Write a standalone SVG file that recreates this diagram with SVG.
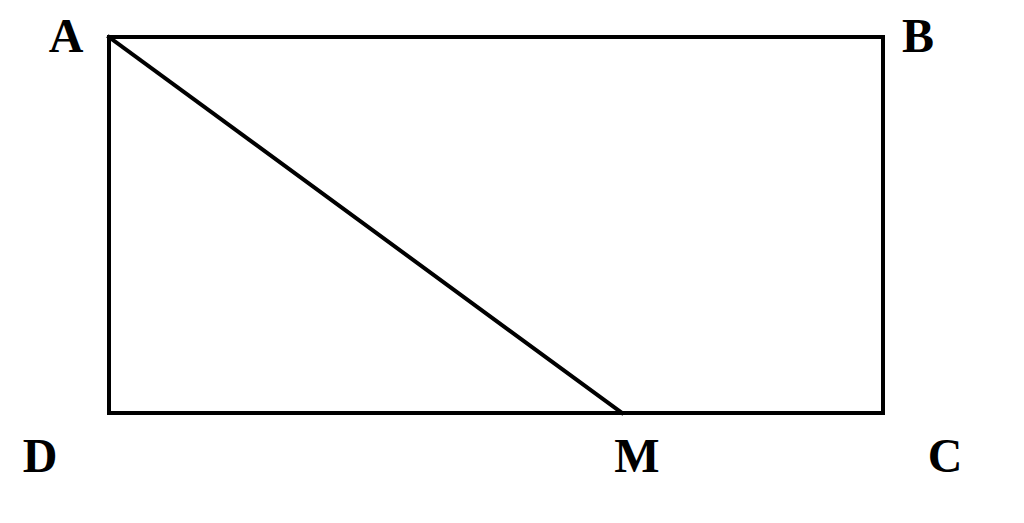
<svg xmlns="http://www.w3.org/2000/svg" width="1024" height="523" viewBox="0 0 1024 523">
<style>
.lbl{font-family:"Liberation Serif","Times New Roman",serif;font-weight:bold;font-size:48px;fill:#000;text-anchor:middle}
.edge{stroke:#000;stroke-width:4;fill:none;stroke-linecap:square}
</style>
<rect width="1024" height="523" fill="#fff"/>
<g id="connectors">
<rect class="edge" x="109" y="37" width="774" height="376"/>
<line class="edge" x1="109" y1="37" x2="622" y2="413" stroke-linecap="butt"/>
</g>
<g id="A"><text class="lbl" x="66" y="52">A</text></g>
<g id="B"><text class="lbl" x="918" y="52">B</text></g>
<g id="D"><text class="lbl" x="40" y="472">D</text></g>
<g id="M"><text class="lbl" x="637" y="472">M</text></g>
<g id="C"><text class="lbl" x="945" y="472">C</text></g>
</svg>
